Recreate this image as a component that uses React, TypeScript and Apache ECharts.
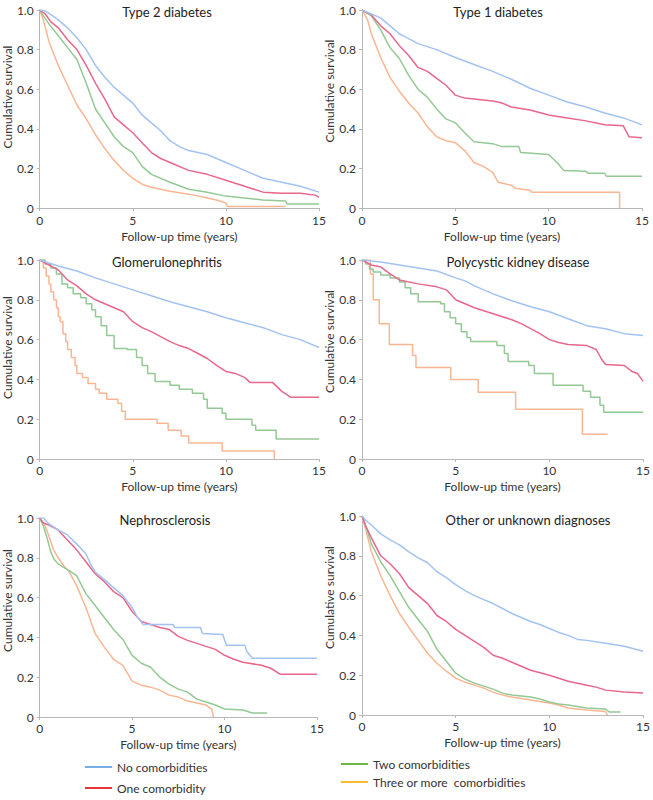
import React, { useEffect, useRef } from "react";
import * as echarts from "echarts";

// ---------- data ----------
const panelTitles = [
  "Type 2 diabetes",
  "Type 1 diabetes",
  "Glomerulonephritis",
  "Polycystic kidney disease",
  "Nephrosclerosis",
  "Other or unknown diagnoses",
];
const groupNames = [
  "No comorbidities",
  "One comorbidity",
  "Two comorbidities",
  "Three or more  comorbidities",
];
const xTicks = [0, 5, 10, 15];
const yTicks = [0, 0.2, 0.4, 0.6, 0.8, 1.0];

// Type 2 diabetes
const t2No = [[0,1],[0.3,0.995],[0.7,0.97],[1,0.95],[1.5,0.91],[2,0.86],[2.5,0.8],[3,0.72],[3.5,0.66],[4,0.61],[4.5,0.57],[5,0.53],[5.5,0.47],[6,0.43],[6.5,0.39],[7,0.34],[7.5,0.31],[8,0.29],[9,0.27],[10,0.23],[11,0.19],[11.5,0.17],[12,0.15],[13,0.13],[14,0.11],[15,0.08]];
const t2One = [[0,1],[0.3,0.98],[0.6,0.94],[1,0.91],[1.5,0.85],[2,0.8],[2.5,0.72],[3,0.63],[3.5,0.55],[4,0.46],[4.5,0.42],[5,0.38],[5.5,0.33],[6,0.28],[6.5,0.25],[7,0.23],[8,0.19],[9,0.17],[10,0.14],[11,0.11],[12,0.08],[13,0.075],[14,0.075],[14.8,0.065],[15,0.054]];
const t2Two = [[0,1],[0.2,0.97],[0.5,0.93],[1,0.87],[1.5,0.81],[2,0.75],[2.5,0.63],[3,0.5],[3.5,0.43],[4,0.36],[4.5,0.31],[5,0.28],[5.5,0.21],[6,0.17],[7,0.13],[8,0.095],[9,0.08],[10,0.06],[11,0.05],[12,0.04],[13.2,0.035],[13.3,0.02],[15,0.02]];
const t2Three = [[0,1],[0.2,0.95],[0.5,0.84],[1,0.72],[1.5,0.62],[2,0.52],[2.5,0.45],[3,0.37],[3.5,0.3],[4,0.24],[4.5,0.19],[5,0.15],[5.5,0.12],[6,0.105],[7,0.085],[8,0.07],[9,0.05],[9.5,0.04],[10,0.025],[10.1,0.007],[13.2,0.007]];

// Type 1 diabetes
const t1No = [[0,1],[0.5,0.98],[1,0.96],[1.5,0.92],[2,0.88],[2.5,0.855],[3,0.83],[4,0.8],[5,0.76],[6,0.725],[7,0.69],[8,0.65],[9,0.605],[10,0.57],[11,0.535],[12,0.51],[13,0.48],[14,0.455],[15,0.42]];
const t1One = [[0,1],[0.5,0.975],[1,0.92],[1.5,0.88],[2,0.82],[2.5,0.77],[3,0.71],[3.5,0.69],[4,0.655],[4.5,0.62],[5,0.57],[5.5,0.555],[6,0.55],[7,0.54],[7.5,0.53],[8,0.51],[9,0.495],[10,0.47],[11,0.455],[12,0.44],[13,0.42],[14,0.415],[14.3,0.36],[15,0.355]];
const t1Two = [[0,1],[0.5,0.97],[1,0.9],[1.5,0.81],[2,0.755],[2.5,0.67],[3,0.6],[3.5,0.56],[4,0.5],[4.5,0.45],[5,0.43],[5.5,0.38],[6,0.335],[7,0.325],[7.5,0.31],[8.4,0.31],[8.5,0.28],[10,0.27],[10.5,0.225],[10.8,0.19],[12,0.185],[12.1,0.175],[13,0.175],[13.1,0.16],[15,0.16]];
const t1Three = [[0,1],[0.3,0.95],[0.5,0.88],[1,0.76],[1.5,0.66],[2,0.59],[2.5,0.53],[3,0.48],[3.5,0.41],[4,0.36],[4.5,0.34],[5,0.33],[5.5,0.29],[6,0.23],[6.5,0.21],[7,0.18],[7.3,0.13],[8,0.115],[8.2,0.1],[9,0.09],[9.1,0.08],[13.8,0.08],[13.8,0]];

// Glomerulonephritis
const gnNo = [[0,1],[0.5,0.985],[1,0.97],[2,0.945],[3,0.91],[4,0.88],[5,0.85],[6,0.82],[7,0.79],[8,0.765],[9,0.74],[10,0.71],[11,0.685],[12,0.66],[13,0.625],[14,0.6],[15,0.56]];
const gnOne = [[0,1],[0.5,0.975],[1,0.95],[1.5,0.9],[2,0.87],[2.5,0.83],[3,0.8],[3.5,0.78],[4,0.76],[4.5,0.74],[5,0.69],[5.5,0.66],[6,0.64],[6.5,0.615],[7,0.59],[7.5,0.57],[8,0.555],[8.5,0.53],[9,0.505],[9.5,0.47],[10,0.44],[10.5,0.43],[11,0.41],[11.3,0.385],[12.5,0.385],[13,0.34],[13.5,0.31],[15,0.31]];
const gnTwo = [[0,1],[0.3,0.98],[0.6,0.96],[0.9,0.93],[1.2,0.88],[1.5,0.86],[1.8,0.83],[2.2,0.81],[2.5,0.78],[2.8,0.75],[3,0.715],[3.3,0.67],[3.6,0.62],[4,0.555],[4.7,0.55],[5.2,0.51],[5.5,0.47],[5.8,0.43],[6.2,0.39],[7,0.37],[7.5,0.35],[8.2,0.33],[8.8,0.3],[9,0.255],[9.8,0.23],[10,0.2],[11.4,0.17],[11.6,0.145],[12.7,0.1],[15,0.1]];
const gnThree = [[0,1],[0.2,0.96],[0.35,0.92],[0.5,0.88],[0.6,0.84],[0.75,0.8],[0.9,0.76],[1,0.715],[1.1,0.69],[1.25,0.63],[1.4,0.59],[1.5,0.55],[1.7,0.51],[1.9,0.47],[2,0.43],[2.3,0.41],[2.6,0.38],[3,0.35],[3.2,0.33],[3.6,0.3],[4.2,0.28],[4.4,0.24],[4.6,0.2],[6.3,0.18],[6.9,0.145],[7.6,0.115],[8,0.08],[9.8,0.04],[12.6,0]];

// Polycystic kidney disease
const pkNo = [[0,1],[0.5,0.995],[1,0.99],[2,0.975],[3,0.96],[4,0.945],[5,0.91],[5.5,0.895],[6,0.87],[7,0.83],[8,0.795],[9,0.765],[10,0.74],[11,0.705],[12,0.67],[13,0.655],[14,0.63],[15,0.62]];
const pkOne = [[0,1],[0.5,0.975],[1,0.965],[1.5,0.93],[2,0.9],[3,0.88],[4,0.865],[4.5,0.85],[5,0.8],[5.5,0.78],[6,0.76],[7,0.73],[8,0.7],[8.5,0.68],[9,0.655],[9.5,0.63],[10,0.6],[10.5,0.585],[11,0.575],[12,0.57],[12.5,0.55],[12.8,0.5],[13,0.475],[14,0.47],[14.4,0.44],[14.7,0.43],[15,0.39]];
const pkTwo = [[0,1],[0.2,0.98],[0.4,0.955],[0.6,0.94],[1,0.925],[1.5,0.91],[2,0.89],[2.3,0.86],[2.6,0.83],[3,0.79],[4.2,0.78],[4.4,0.74],[4.7,0.71],[5,0.68],[5.3,0.64],[5.6,0.61],[5.8,0.59],[7.2,0.57],[7.6,0.53],[7.8,0.49],[8.9,0.47],[9.2,0.43],[10.2,0.37],[11.8,0.34],[12.2,0.31],[12.7,0.27],[12.9,0.235],[15,0.235]];
const pkThree = [[0,1],[0.45,0.93],[0.6,0.8],[0.92,0.68],[1.46,0.575],[2.7,0.52],[2.88,0.46],[4.74,0.4],[6.2,0.335],[8.2,0.25],[11.76,0.125],[13.1,0.125]];

// Nephrosclerosis
const nsNo = [[0,1],[0.2,1],[0.5,0.97],[1,0.94],[1.5,0.915],[2,0.87],[2.5,0.82],[2.8,0.76],[3,0.73],[3.5,0.69],[4,0.65],[4.5,0.61],[5,0.55],[5.3,0.5],[5.6,0.465],[7.2,0.465],[7.3,0.45],[8.7,0.45],[8.8,0.42],[9.9,0.415],[10.1,0.36],[11.1,0.36],[11.2,0.33],[11.5,0.295],[15,0.295]];
const nsOne = [[0,1],[0.2,0.975],[0.5,0.965],[1,0.94],[1.5,0.89],[2,0.84],[2.5,0.78],[3,0.72],[3.5,0.68],[4,0.63],[4.5,0.6],[5,0.53],[5.5,0.48],[6,0.465],[6.5,0.45],[7,0.44],[7.5,0.405],[8,0.385],[8.5,0.37],[9,0.355],[9.5,0.34],[10,0.31],[10.5,0.29],[11,0.275],[12,0.26],[12.5,0.245],[13,0.215],[15,0.215]];
const nsTwo = [[0,1],[0.2,0.96],[0.4,0.9],[0.6,0.83],[0.8,0.79],[1,0.77],[1.5,0.74],[2,0.71],[2.5,0.62],[3,0.56],[3.5,0.5],[4,0.44],[4.5,0.39],[5,0.31],[5.5,0.27],[6,0.25],[6.5,0.2],[7,0.165],[7.5,0.14],[8,0.125],[8.5,0.09],[9,0.075],[9.5,0.06],[10,0.04],[11,0.035],[11.5,0.02],[12.3,0.02]];
const nsThree = [[0,1],[0.3,0.96],[0.5,0.91],[0.75,0.84],[1,0.8],[1.3,0.76],[1.6,0.73],[2,0.66],[2.5,0.55],[3,0.42],[3.5,0.35],[4,0.29],[4.5,0.26],[5,0.18],[5.5,0.16],[6,0.15],[6.5,0.135],[7,0.11],[7.5,0.1],[8,0.08],[8.5,0.07],[9,0.06],[9.3,0.04],[9.4,0]];

// Other or unknown diagnoses
const otNo = [[0,1],[0.3,0.97],[0.5,0.955],[1,0.91],[1.5,0.88],[2,0.855],[2.5,0.82],[3,0.79],[3.5,0.765],[4,0.72],[4.5,0.69],[5,0.655],[5.5,0.625],[6,0.6],[6.5,0.58],[7,0.56],[7.5,0.535],[8,0.51],[8.5,0.49],[9,0.47],[9.5,0.455],[10,0.435],[10.5,0.415],[11,0.4],[11.5,0.38],[12,0.375],[13,0.36],[14,0.345],[15,0.32]];
const otOne = [[0,1],[0.2,0.95],[0.5,0.89],[1,0.8],[1.5,0.76],[2,0.71],[2.5,0.64],[3,0.6],[3.5,0.56],[4,0.5],[4.5,0.47],[5,0.43],[5.5,0.4],[6,0.37],[6.5,0.34],[7,0.3],[7.5,0.285],[8,0.265],[8.5,0.245],[9,0.225],[10,0.2],[11,0.17],[12,0.15],[12.5,0.14],[13,0.125],[14,0.115],[15,0.11]];
const otTwo = [[0,1],[0.2,0.95],[0.5,0.86],[1,0.77],[1.5,0.7],[2,0.62],[2.5,0.54],[3,0.48],[3.5,0.42],[4,0.33],[4.5,0.27],[5,0.21],[5.5,0.18],[6,0.16],[6.5,0.145],[7,0.13],[7.5,0.11],[8,0.1],[9,0.09],[9.5,0.08],[10,0.065],[10.5,0.055],[11,0.05],[12,0.035],[13,0.03],[13.2,0.015],[13.8,0.015]];
const otThree = [[0,1],[0.2,0.93],[0.5,0.82],[1,0.7],[1.5,0.6],[2,0.51],[2.5,0.44],[3,0.375],[3.5,0.31],[4,0.26],[4.5,0.22],[5,0.185],[5.5,0.165],[6,0.15],[6.5,0.135],[7,0.115],[7.5,0.1],[8,0.09],[9,0.075],[10,0.06],[10.5,0.05],[11,0.035],[12,0.025],[13,0.017],[13.1,0]];

const panelSeries = [
  [t2No, t2One, t2Two, t2Three],
  [t1No, t1One, t1Two, t1Three],
  [gnNo, gnOne, gnTwo, gnThree],
  [pkNo, pkOne, pkTwo, pkThree],
  [nsNo, nsOne, nsTwo, nsThree],
  [otNo, otOne, otTwo, otThree],
];
// which curves are drawn as visible stair steps
const stepped = [
  [false, false, false, false],
  [false, false, false, false],
  [false, false, true, true],
  [false, false, true, true],
  [false, false, false, false],
  [false, false, false, false],
];

// ---------- styles / layout ----------
const curveColors = ["#a2c3f1", "#e8678a", "#94c894", "#f9b692"];
const legendColors = ["#7aaee8", "#e8323c", "#6fb94a", "#f7bd2c"];
const FONT = "Lato, 'Liberation Sans', sans-serif";
const grids = [
  { left: 39, top: 10, width: 280, height: 198 },
  { left: 362, top: 10, width: 280, height: 198 },
  { left: 39, top: 260, width: 280, height: 199 },
  { left: 362, top: 260, width: 282, height: 199 },
  { left: 36, top: 518, width: 281, height: 199 },
  { left: 362, top: 516, width: 282, height: 199 },
];
const titlePos = [
  [167, 5], [498, 5], [167, 255], [518, 255], [165, 513], [528, 513],
];
const xLabelMargin = [6, 6, 5, 5, 5, 5];
const xNameGap = [22, 22, 21, 21, 21, 21];
const yNameGap = [23, 23, 23, 23, 20, 23];
const yNameShift = [24, 36, 24, 36, 34, 36];
const legendPos = [
  { left: 85, top: 761 },
  { left: 85, top: 782 },
  { left: 341, top: 758 },
  { left: 341, top: 776 },
];

export default function App() {
  const ref = useRef<HTMLDivElement>(null);
  useEffect(() => {
    document.body.style.margin = "0";
    const chart = echarts.init(ref.current!, null, { renderer: "svg" });
    const axisGray = "#b8b8b8";
    const textColor = "#333";

    const xAxis = grids.map((_, i) => ({
      type: "value",
      gridIndex: i,
      min: xTicks[0],
      max: xTicks[xTicks.length - 1],
      interval: 5,
      name: "Follow-up time (years)",
      nameLocation: "middle",
      nameGap: xNameGap[i],
      nameTextStyle: { fontFamily: FONT, fontSize: 12, color: textColor },
      axisLine: { show: true, lineStyle: { color: axisGray, width: 1 } },
      axisTick: { show: true, length: 3, lineStyle: { color: axisGray } },
      axisLabel: { fontFamily: FONT, fontSize: 12, color: textColor, margin: xLabelMargin[i] },
      splitLine: { show: false },
    }));
    const yAxis = grids.map((_, i) => ({
      type: "value",
      gridIndex: i,
      min: yTicks[0],
      max: yTicks[yTicks.length - 1],
      interval: 0.2,
      name: "Cumulative survival",
      nameLocation: "middle",
      nameGap: yNameGap[i],
      nameTextStyle: {
        fontFamily: FONT,
        fontSize: 12,
        color: textColor,
        padding: [0, 0, 0, yNameShift[i]],
      },
      axisLine: { show: true, lineStyle: { color: axisGray, width: 1 } },
      axisTick: { show: true, length: 3, lineStyle: { color: axisGray } },
      axisLabel: {
        fontFamily: FONT,
        fontSize: 12,
        color: textColor,
        margin: 6,
        formatter: (v: number) => (v === 0 ? "0" : v.toFixed(1)),
      },
      splitLine: { show: false },
    }));

    const series: any[] = [];
    panelSeries.forEach((curves, p) => {
      curves.forEach((data, g) => {
        series.push({
          type: "line",
          name: groupNames[g],
          xAxisIndex: p,
          yAxisIndex: p,
          data,
          step: stepped[p][g] ? "end" : false,
          symbol: "none",
          lineStyle: { color: curveColors[g], width: 1.5 },
          itemStyle: { color: curveColors[g] },
          z: 10 - g,
        });
      });
    });

    const title = panelTitles.map((t, i) => ({
      text: t,
      left: titlePos[i][0],
      top: titlePos[i][1],
      textAlign: "center",
      padding: 0,
      textStyle: { fontFamily: FONT, fontSize: 13, fontWeight: "normal", color: "#222" },
    }));

    const legend = groupNames.map((n, g) => ({
      show: true,
      left: legendPos[g].left,
      top: legendPos[g].top,
      orient: "horizontal",
      icon: "rect",
      itemWidth: 27,
      itemHeight: 2,
      selectedMode: false,
      padding: 0,
      textStyle: { fontFamily: FONT, fontSize: 12, color: textColor },
      data: [
        {
          name: n,
          icon: "rect",
          itemStyle: { color: legendColors[g], borderWidth: 0 },
        },
      ],
    }));

    chart.setOption({
      animation: false,
      backgroundColor: "#ffffff",
      title,
      legend,
      grid: grids.map((g) => ({ ...g, containLabel: false })),
      xAxis,
      yAxis,
      series,
    });
    return () => chart.dispose();
  }, []);
  return <div ref={ref} style={{ width: 653, height: 800 }} />;
}
